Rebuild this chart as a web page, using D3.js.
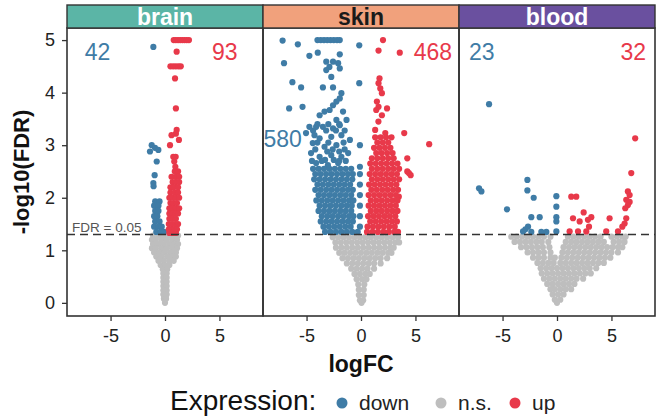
<!DOCTYPE html>
<html>
<head>
<meta charset="utf-8">
<script src="https://cdn.jsdelivr.net/npm/d3@7"></script>
<style>
  body { margin: 0; background: #fff; }
  svg { display: block; font-family: "Liberation Sans", Arial, Helvetica, sans-serif; }
</style>
</head>
<body>
<div id="chart"></div>
<script>
// ---- data ----
const tissues = ['brain', 'skin', 'blood'];
const nDown = [42, 580, 23];
const nUp = [93, 468, 32];
const xTicks = [-5, 0, 5];
const yTicks = [0, 1, 2, 3, 4, 5];
const fdrCut = 0.05;
const groups = ['down', 'n.s.', 'up'];

// each row: [ -log10(FDR), logFC, logFC, ... ]
const brainNs = [
  [1.28, -1.1, -0.6, -0.1, 0.4, 0.9, 1.2],
  [1.2, -1.2, -0.85, -0.35, 0.15, 0.65, 1.1],
  [1.12, -1.1, -0.6, -0.1, 0.4, 0.9, 1.2],
  [1.04, -1.2, -0.85, -0.35, 0.15, 0.65, 1.1],
  [0.96, -1.0, -0.5, 0, 0.5, 1.0],
  [0.88, -0.8, -0.3, 0.2, 0.7, 1.0],
  [0.8, -0.6, -0.1, 0.4, 0.8],
  [0.72, -0.4, 0, 0.4],
  [0.64, -0.2, 0.2], [0.56, -0.15, 0.15], [0.48, -0.15, 0.15], [0.4, -0.15, 0.15],
  [0.32, -0.15, 0.15], [0.24, -0.15, 0.15], [0.16, -0.15, 0.15], [0.08, -0.1, 0.1], [0.0, 0]
];
const brainDown = [
  [4.87, -1.07],
  [3.0, -1.22], [2.95, -0.92], [2.91, -0.61], [2.88, -1.38], [2.69, -0.76],
  [2.43, -0.95], [2.28, -1.07], [2.22, -1.05],
  [1.93, -0.9, -0.5], [1.85, -1.0, -0.6], [1.75, -0.9, -0.6], [1.65, -1.0, -0.7],
  [1.55, -0.9, -0.5], [1.45, -1.0, -0.6, -0.3], [1.35, -0.8, -0.4, -0.1]
];
const brainUp = [
  [5, 0.8, 1.0, 1.2, 1.4, 1.6, 1.8, 2.0, 2.2],
  [4.78, 1.07], [4.5, 0.5, 0.75, 1.0, 1.25, 1.45], [4.27, 0.92], [3.7, 1.0],
  [3.29, 1.07], [3.22, 1.0], [3.19, 0.6], [3.1, 1.28], [3.0, 0.46],
  [2.78, 0.76, 0.98], [2.69, 0.85], [2.59, 0.95], [2.5, 0.9, 1.2],
  [2.4, 0.6, 1.0, 1.3], [2.3, 0.7, 1.0, 1.3], [2.2, 0.5, 0.8, 1.2], [2.1, 0.5, 0.9, 1.2],
  [2.0, 0.4, 0.7, 1.0, 1.3], [1.9, 0.5, 0.8, 1.1], [1.8, 0.4, 0.7, 1.0, 1.3],
  [1.7, 0.4, 0.7, 1.0, 1.2], [1.6, 0.4, 0.7, 1.0], [1.5, 0.35, 0.65, 0.95, 1.2],
  [1.4, 0.35, 0.6, 0.9, 1.1], [1.33, 0.4, 0.7, 1.0]
];

const skinNs = [
  [1.25, -2.6, -2.1, -1.6, -1.1, -0.6, -0.1, 0.4, 0.9, 1.4, 1.9, 2.4, 2.9, 3.4],
  [1.15, -2.35, -1.85, -1.35, -0.85, -0.35, 0.15, 0.65, 1.15, 1.65, 2.15, 2.65, 3.15, 3.5],
  [1.05, -2.3, -1.8, -1.3, -0.8, -0.3, 0.2, 0.7, 1.2, 1.7, 2.2, 2.7, 3.0],
  [0.95, -2.0, -1.5, -1.0, -0.5, 0, 0.5, 1.0, 1.5, 2.0, 2.5, 2.8],
  [0.85, -1.7, -1.2, -0.7, -0.2, 0.3, 0.8, 1.3, 1.8, 2.4],
  [0.75, -1.3, -0.8, -0.3, 0.2, 0.7, 1.2, 1.8],
  [0.65, -0.9, -0.4, 0.1, 0.6, 1.2],
  [0.55, -0.6, -0.1, 0.4, 0.8],
  [0.45, -0.4, 0.1, 0.5],
  [0.35, -0.25, 0.3], [0.25, -0.2, 0.25], [0.15, -0.2, 0.25], [0.05, -0.1, 0.2], [0.0, 0.05]
];
const skinDown = [
  [5, -4.0, -3.7, -3.4, -3.1, -2.8, -2.5, -2.2, -1.95],
  [4.99, -7.2], [4.92, -5.8], [4.9, -0.16], [4.76, -3.97], [4.73, -1.95], [4.7, -4.74],
  [4.59, -3.19, -2.57], [4.56, -7.07, -2.1], [4.49, -2.9], [4.46, -1.95], [4.43, -3.19],
  [4.3, -2.73], [4.2, -6.3], [4.18, -0.16], [4.1, -5.5, -3.5, -2.57], [3.99, -1.8],
  [3.89, -1.95], [3.83, -2.26], [3.76, -2.57], [3.73, -5.37], [3.7, -6.6], [3.67, -2.88],
  [3.64, -3.35, -1.65], [3.57, -3.8], [3.48, -2.26, -1.33], [3.4, -4.0, -3.0, -2.0],
  [3.38, -1.95], [3.35, -4.74, -4.12, -3.5], [3.32, -2.57], [3.28, -4.4, -3.2, -2.3, -1.5],
  [3.23, -5.05], [3.19, -4.27, -1.8], [3.16, -2.73], [3.13, -3.8], [3.1, -1.02],
  [3.05, -4.0, -3.0, -1.6], [3.04, -4.43], [3.0, -2.26, -0.1], [2.97, -3.35],
  [2.92, -4.2, -2.6, -1.5], [2.88, -3.1, -2.0], [2.85, -4.59, -1.18], [2.81, -2.73],
  [2.78, -3.8, -1.8], [2.72, -3.3, -2.5],
  [2.7, -4.5, -3.6, -2.0, -1.4], [2.66, -4.12, -2.1], [2.62, -3.04], [2.59, -0.1],
  [2.55, -4.4, -3.9, -3.4, -2.9, -2.4, -1.9, -1.4, -0.9],
  [2.45, -4.2, -3.7, -3.2, -2.7, -2.2, -1.7, -1.2, -0.75, -0.1],
  [2.35, -4.3, -3.8, -3.3, -2.8, -2.3, -1.8, -1.3, -0.8],
  [2.25, -4.0, -3.5, -3.0, -2.5, -2.0, -1.5, -1.0, -0.1],
  [2.15, -4.2, -3.7, -3.2, -2.7, -2.2, -1.7, -1.2, -0.75],
  [2.05, -3.9, -3.4, -2.9, -2.4, -1.9, -1.4, -0.9, -0.1],
  [1.95, -4.1, -3.6, -3.1, -2.6, -2.1, -1.6, -1.1, -0.7],
  [1.85, -3.8, -3.3, -2.8, -2.3, -1.8, -1.3, -0.85, -0.1],
  [1.75, -3.9, -3.4, -2.9, -2.4, -1.9, -1.4, -0.9],
  [1.65, -3.6, -3.1, -2.6, -2.1, -1.6, -1.1, -0.7, -0.1],
  [1.55, -3.7, -3.2, -2.7, -2.2, -1.7, -1.2, -0.75],
  [1.45, -3.45, -2.95, -2.45, -1.95, -1.45, -0.95, -0.1],
  [1.35, -3.3, -2.8, -2.3, -1.8, -1.3, -0.8, -0.3]
];
const skinUp = [
  [5.0, 2.02], [4.8, 1.61], [4.76, 3.56], [4.27, 1.7], [4.18, 1.61], [4.08, 1.77],
  [3.99, 1.92], [3.83, 1.46], [3.73, 1.61], [3.7, 2.39], [3.67, 1.4], [3.57, 1.92],
  [3.45, 1.6], [3.29, 1.3], [3.23, 2.23, 3.97], [3.02, 6.26], [2.75, 4.25],
  [2.5, 4.25], [2.47, 4.4], [2.43, 4.56], [2.02, 3.47],
  [3.15, 1.3, 1.8, 2.3, 2.8], [3.05, 1.5, 2.0, 2.5], [2.95, 1.2, 1.7, 2.2, 2.7],
  [2.85, 1.4, 1.9, 2.4, 2.9], [2.75, 1.0, 1.5, 2.0, 2.5, 3.0],
  [2.65, 0.85, 1.35, 1.85, 2.35, 2.85, 3.35], [2.55, 1.0, 1.5, 2.0, 2.5, 3.0, 3.5],
  [2.45, 0.8, 1.3, 1.8, 2.3, 2.8, 3.3], [2.35, 1.0, 1.5, 2.0, 2.5, 3.0, 3.5],
  [2.25, 0.75, 1.25, 1.75, 2.25, 2.75, 3.25], [2.15, 0.95, 1.45, 1.95, 2.45, 2.95, 3.4],
  [2.05, 0.7, 1.2, 1.7, 2.2, 2.7, 3.2], [1.95, 0.9, 1.4, 1.9, 2.4, 2.9, 3.35],
  [1.85, 0.7, 1.2, 1.7, 2.2, 2.7, 3.2], [1.75, 0.9, 1.4, 1.9, 2.4, 2.9, 3.35],
  [1.65, 0.65, 1.15, 1.65, 2.15, 2.65, 3.15], [1.55, 0.85, 1.35, 1.85, 2.35, 2.85, 3.3],
  [1.45, 0.6, 1.1, 1.6, 2.1, 2.6, 3.1], [1.35, 0.55, 1.05, 1.55, 2.05, 2.55, 3.05, 3.4]
];

const bloodNs = [
  [1.26, -4.2, -3.7, -3.2, -2.7, -2.2, -1.7, -1.2, -0.6, 1.0, 1.5, 2.0, 2.5, 3.0, 3.5, 4.0, 5.0, 5.5, 6.0, 6.3],
  [1.16, -3.9, -3.4, -2.9, -2.4, -1.9, -1.4, -0.8, 0.8, 1.3, 1.8, 2.3, 2.8, 3.3, 3.8, 4.3, 5.2, 5.7, 6.2],
  [1.06, -3.3, -2.8, -2.3, -1.8, -1.3, -0.7, 0.6, 1.1, 1.6, 2.1, 2.6, 3.1, 3.6, 4.1, 4.6, 5.1, 5.6, 6.0],
  [0.96, -2.7, -2.2, -1.7, -1.2, -0.6, 0.5, 1.0, 1.5, 2.0, 2.5, 3.0, 3.5, 4.0, 4.5, 5.0, 5.6],
  [0.86, -2.2, -1.7, -1.2, -0.6, -0.2, 0.4, 0.9, 1.4, 1.9, 2.4, 2.9, 3.4, 3.9, 4.4, 4.9],
  [0.76, -1.8, -1.3, -0.8, -0.3, 0.3, 0.8, 1.3, 1.8, 2.3, 2.8, 3.3, 3.8, 4.3],
  [0.66, -1.5, -1.0, -0.5, 0, 0.5, 1.0, 1.5, 2.0, 2.5, 3.0, 3.6],
  [0.56, -1.4, -0.9, -0.4, 0.1, 0.6, 1.1, 1.6, 2.1, 2.6, 3.1],
  [0.46, -1.2, -0.7, -0.2, 0.3, 0.8, 1.3, 1.8, 2.4],
  [0.36, -0.9, -0.4, 0.1, 0.6, 1.1, 1.6],
  [0.26, -0.6, -0.2, 0.3, 0.8, 1.3],
  [0.16, -0.4, 0.1, 0.6], [0.06, -0.2, 0.3], [0.0, 0.0]
];
const bloodDown = [
  [3.78, -6.24], [2.34, -2.72], [2.18, -7.16], [2.14, -2.72], [2.12, -6.94],
  [2.03, -0.06], [2.0, -2.14], [1.83, -0.06], [1.78, -4.59], [1.63, -2.36, -1.59, -0.06],
  [1.55, -0.06], [1.45, -2.66], [1.4, -2.9], [1.36, -3.12, -0.06], [1.35, -2.36, -1.44, -0.98]
];
const bloodUp = [
  [3.13, 7.18], [2.47, 6.82], [2.12, 6.51], [2.05, 6.67], [2.02, 1.31, 1.77], [1.96, 6.36],
  [1.92, 6.67], [1.86, 6.51], [1.8, 6.27], [1.72, 2.45], [1.63, 3.15], [1.61, 1.47, 4.83, 6.36],
  [1.58, 2.84], [1.55, 2.08], [1.51, 6.21], [1.45, 6.0, 2.94], [1.36, 1.16, 1.93, 2.69, 4.52, 5.6]
];

const pointSets = [
  { ns: brainNs, down: brainDown, up: brainUp },
  { ns: skinNs, down: skinDown, up: skinUp },
  { ns: bloodNs, down: bloodDown, up: bloodUp }
];

// ---- look ----
const colDown = '#3f7ca6', colNs = '#bebebe', colUp = '#e8394a';
const stripFill = ['#5bb5a6', '#f1a17c', '#6a509f'];
const stripText = ['#ffffff', '#1a1a1a', '#ffffff'];
// where the count labels sit, in data units [logFC, -log10 FDR]
const downLabelPos = [[-6.2, 4.77], [-7.2, 3.12], [-6.9, 4.77]];
const upLabelPos = [[5.5, 4.77], [6.6, 4.77], [7.0, 4.77]];

const width = 656, height = 420;
const panelLeft = 67, panelW = 196, panelTop = 28, panelBottom = 316;

const svg = d3.select('#chart').append('svg')
  .attr('width', width)
  .attr('height', height);

const yScale = d3.scaleLinear().domain([-0.25, 5.23]).range([panelBottom, panelTop]);

function rowsToPoints(rows) {
  const out = [];
  rows.forEach(r => r.slice(1).forEach(x => out.push({ x: x, y: r[0] })));
  return out;
}

tissues.forEach((t, i) => {
  const x0 = panelLeft + i * panelW;
  const xScale = d3.scaleLinear().domain([-9, 9]).range([x0, x0 + panelW]);
  const g = svg.append('g');

  svg.append('clipPath').attr('id', 'clip' + i)
    .append('rect')
    .attr('x', x0).attr('y', panelTop)
    .attr('width', panelW).attr('height', panelBottom - panelTop);

  const pts = g.append('g').attr('clip-path', `url(#clip${i})`);

  /* n.s. first so the coloured ones sit on top */
  [['ns', colNs], ['down', colDown], ['up', colUp]].forEach(([key, col]) => {
    pts.selectAll('circle.' + key)
      .data(rowsToPoints(pointSets[i][key]))
      .join('circle')
      .attr('class', key)
      .attr('cx', d => xScale(d.x))
      .attr('cy', d => yScale(d.y))
      .attr('r', 3.1)
      .attr('fill', col);
  });

  /* FDR cut-off line */
  g.append('line')
    .attr('x1', x0).attr('x2', x0 + panelW)
    .attr('y1', yScale(-Math.log10(fdrCut)))
    .attr('y2', yScale(-Math.log10(fdrCut)))
    .attr('stroke', '#333')
    .attr('stroke-width', 1.6)
    .attr('stroke-dasharray', '8,5');

  /* counts */
  g.append('text')
    .text(nDown[i])
    .attr('x', xScale(downLabelPos[i][0]))
    .attr('y', yScale(downLabelPos[i][1]))
    .attr('text-anchor', 'middle')
    .attr('dominant-baseline', 'central')
    .attr('font-size', 23)
    .attr('fill', colDown);

  g.append('text')
    .text(nUp[i])
    .attr('x', xScale(upLabelPos[i][0]))
    .attr('y', yScale(upLabelPos[i][1]))
    .attr('text-anchor', 'middle')
    .attr('dominant-baseline', 'central')
    .attr('font-size', 23)
    .attr('fill', colUp);

  /* x axis */
  const xAxis = g.append('g')
    .attr('transform', `translate(0,${panelBottom})`)
    .call(d3.axisBottom(xScale).tickValues(xTicks).tickSize(5).tickPadding(8).tickFormat(d => String(d)));
  xAxis.select('.domain').remove();
  xAxis.selectAll('line').attr('stroke', '#333').attr('stroke-width', 1.3);
  xAxis.selectAll('text').attr('font-size', 18).attr('fill', '#222').attr('font-family', null);

  /* panel border */
  g.append('rect')
    .attr('x', x0).attr('y', panelTop)
    .attr('width', panelW).attr('height', panelBottom - panelTop)
    .attr('fill', 'none')
    .attr('stroke', '#333')
    .attr('stroke-width', 1.6);

  /* strip */
  g.append('rect')
    .attr('x', x0).attr('y', 5)
    .attr('width', panelW).attr('height', panelTop - 5)
    .attr('fill', stripFill[i])
    .attr('stroke', '#333')
    .attr('stroke-width', 1.4);

  g.append('text')
    .text(t)
    .attr('x', x0 + panelW / 2)
    .attr('y', 24.5)
    .attr('text-anchor', 'middle')
    .attr('font-size', 23)
    .attr('font-weight', 'bold')
    .attr('fill', stripText[i]);

  if (i === 0) {
    g.append('text')
      .text('FDR = 0.05')
      .attr('x', x0 + 5)
      .attr('y', yScale(-Math.log10(fdrCut)) - 2)
      .attr('font-size', 13.5)
      .attr('fill', '#555');

    const yAxis = g.append('g')
      .attr('transform', `translate(${x0},0)`)
      .call(d3.axisLeft(yScale).tickValues(yTicks).tickSize(5).tickPadding(7).tickFormat(d => String(d)));
    yAxis.select('.domain').remove();
    yAxis.selectAll('line').attr('stroke', '#333').attr('stroke-width', 1.3);
    yAxis.selectAll('text').attr('font-size', 18).attr('fill', '#222').attr('font-family', null);
  }
});

/* axis titles */
svg.append('text')
  .text('-log10(FDR)')
  .attr('transform', `translate(29,${(panelTop + panelBottom) / 2}) rotate(-90)`)
  .attr('text-anchor', 'middle')
  .attr('font-size', 22)
  .attr('font-weight', 'bold')
  .attr('fill', '#111');

svg.append('text')
  .text('logFC')
  .attr('x', panelLeft + panelW * 1.5)
  .attr('y', 372)
  .attr('text-anchor', 'middle')
  .attr('font-size', 23)
  .attr('font-weight', 'bold')
  .attr('fill', '#111');

/* legend */
const legend = svg.append('g');
legend.append('text')
  .text('Expression:')
  .attr('x', 170).attr('y', 410)
  .attr('font-size', 28)
  .attr('fill', '#111');

const legendX = [342, 441, 515];
const legendCol = [colDown, colNs, colUp];
groups.forEach((lab, k) => {
  legend.append('circle')
    .attr('cx', legendX[k]).attr('cy', 403)
    .attr('r', 5.5)
    .attr('fill', legendCol[k]);
  legend.append('text')
    .text(lab)
    .attr('x', legendX[k] + 17).attr('y', 410)
    .attr('font-size', 21)
    .attr('fill', '#222');
});
</script>
</body>
</html>
